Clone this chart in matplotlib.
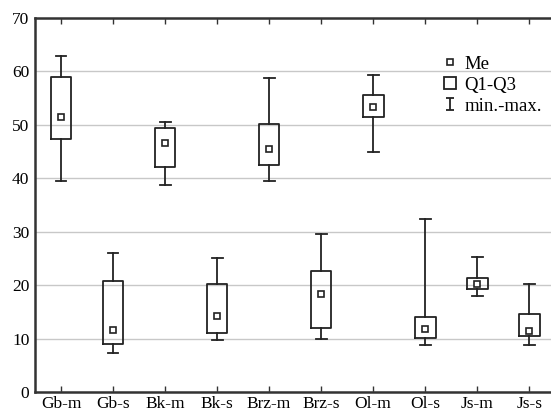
import matplotlib
matplotlib.use('Agg')
import matplotlib.pyplot as plt
from matplotlib.lines import Line2D
from matplotlib.path import Path

plt.rcParams['font.family'] = ['Liberation Serif', 'DejaVu Serif']

# группы и статистики (min, Q1, Me, Q3, max)
labels = ['Gb-m', 'Gb-s', 'Bk-m', 'Bk-s', 'Brz-m', 'Brz-s', 'Ol-m', 'Ol-s', 'Js-m', 'Js-s']
v_min = [39.5, 7.3, 38.8, 9.8, 39.4, 10.0, 44.9, 8.8, 18.0, 8.8]
v_q1 = [47.3, 8.9, 42.2, 11.0, 42.4, 11.9, 51.4, 10.2, 19.3, 10.5]
v_med = [51.5, 11.6, 46.6, 14.3, 45.5, 18.3, 53.3, 11.7, 20.2, 11.4]
v_q3 = [59.0, 20.8, 49.4, 20.2, 50.1, 22.7, 55.5, 14.1, 21.3, 14.6]
v_max = [62.8, 26.0, 50.6, 25.0, 58.7, 29.6, 59.4, 32.4, 25.3, 20.2]

stats = []
for i in range(len(labels)):
    stats.append(dict(label=labels[i], whislo=v_min[i], q1=v_q1[i], med=v_med[i],
                      q3=v_q3[i], whishi=v_max[i], mean=v_med[i]))

fig = plt.figure(figsize=(5.51, 4.15), dpi=100)
ax = fig.add_axes([35 / 551, 23 / 415, 516 / 551, 374 / 415])

ax.yaxis.grid(True, color='#c8c8c8', linewidth=1.0)
ax.set_axisbelow(True)

lw = 1.3
ax.bxp(stats, positions=range(len(labels)), widths=0.4, showmeans=True, showfliers=False,
       patch_artist=False,
       boxprops=dict(color='#222222', linewidth=lw),
       whiskerprops=dict(color='#222222', linewidth=lw),
       capprops=dict(color='#222222', linewidth=lw),
       medianprops=dict(linewidth=0),
       meanprops=dict(marker='s', markersize=4, markerfacecolor='white',
                      markeredgecolor='#222222', markeredgewidth=1.2),
       capwidths=0.21)

ax.set_xlim(-0.5, 9.42)
ax.set_ylim(0, 70)
ax.set_yticks(range(0, 71, 10))
ax.set_xticks(range(len(labels)))
ax.set_xticklabels(labels)
ax.tick_params(axis='x', direction='in', length=4, width=1, top=True, labelsize=12.5, pad=3, color='#333333')
ax.tick_params(axis='y', length=0, labelsize=12.5, pad=4)

for s in ['left', 'top', 'bottom']:
    ax.spines[s].set_linewidth(1.8)
    ax.spines[s].set_color('#333333')
ax.spines['right'].set_visible(False)

# легенда
ibeam = Path([(-0.7, -1), (0.7, -1), (0, -1), (0, 1), (-0.7, 1), (0.7, 1)],
             [Path.MOVETO, Path.LINETO, Path.MOVETO, Path.LINETO, Path.MOVETO, Path.LINETO])
h_me = Line2D([], [], linestyle='none', marker='s', markersize=4, markerfacecolor='white',
              markeredgecolor='#222222', markeredgewidth=1.2)
h_q = Line2D([], [], linestyle='none', marker='s', markersize=9, markerfacecolor='white',
             markeredgecolor='#222222', markeredgewidth=1.3)
h_mm = Line2D([], [], linestyle='none', marker=ibeam, markersize=9, markerfacecolor='none',
              markeredgecolor='#222222', markeredgewidth=1.3)
ax.legend([h_me, h_q, h_mm], ['Me', 'Q1-Q3', 'min.-max.'], loc='upper left',
          bbox_to_anchor=(0.772, 0.925), frameon=False, fontsize=13.5,
          handlelength=0.8, handletextpad=0.35, labelspacing=0.22, borderpad=0)

fig.savefig('out.png', dpi=100)
